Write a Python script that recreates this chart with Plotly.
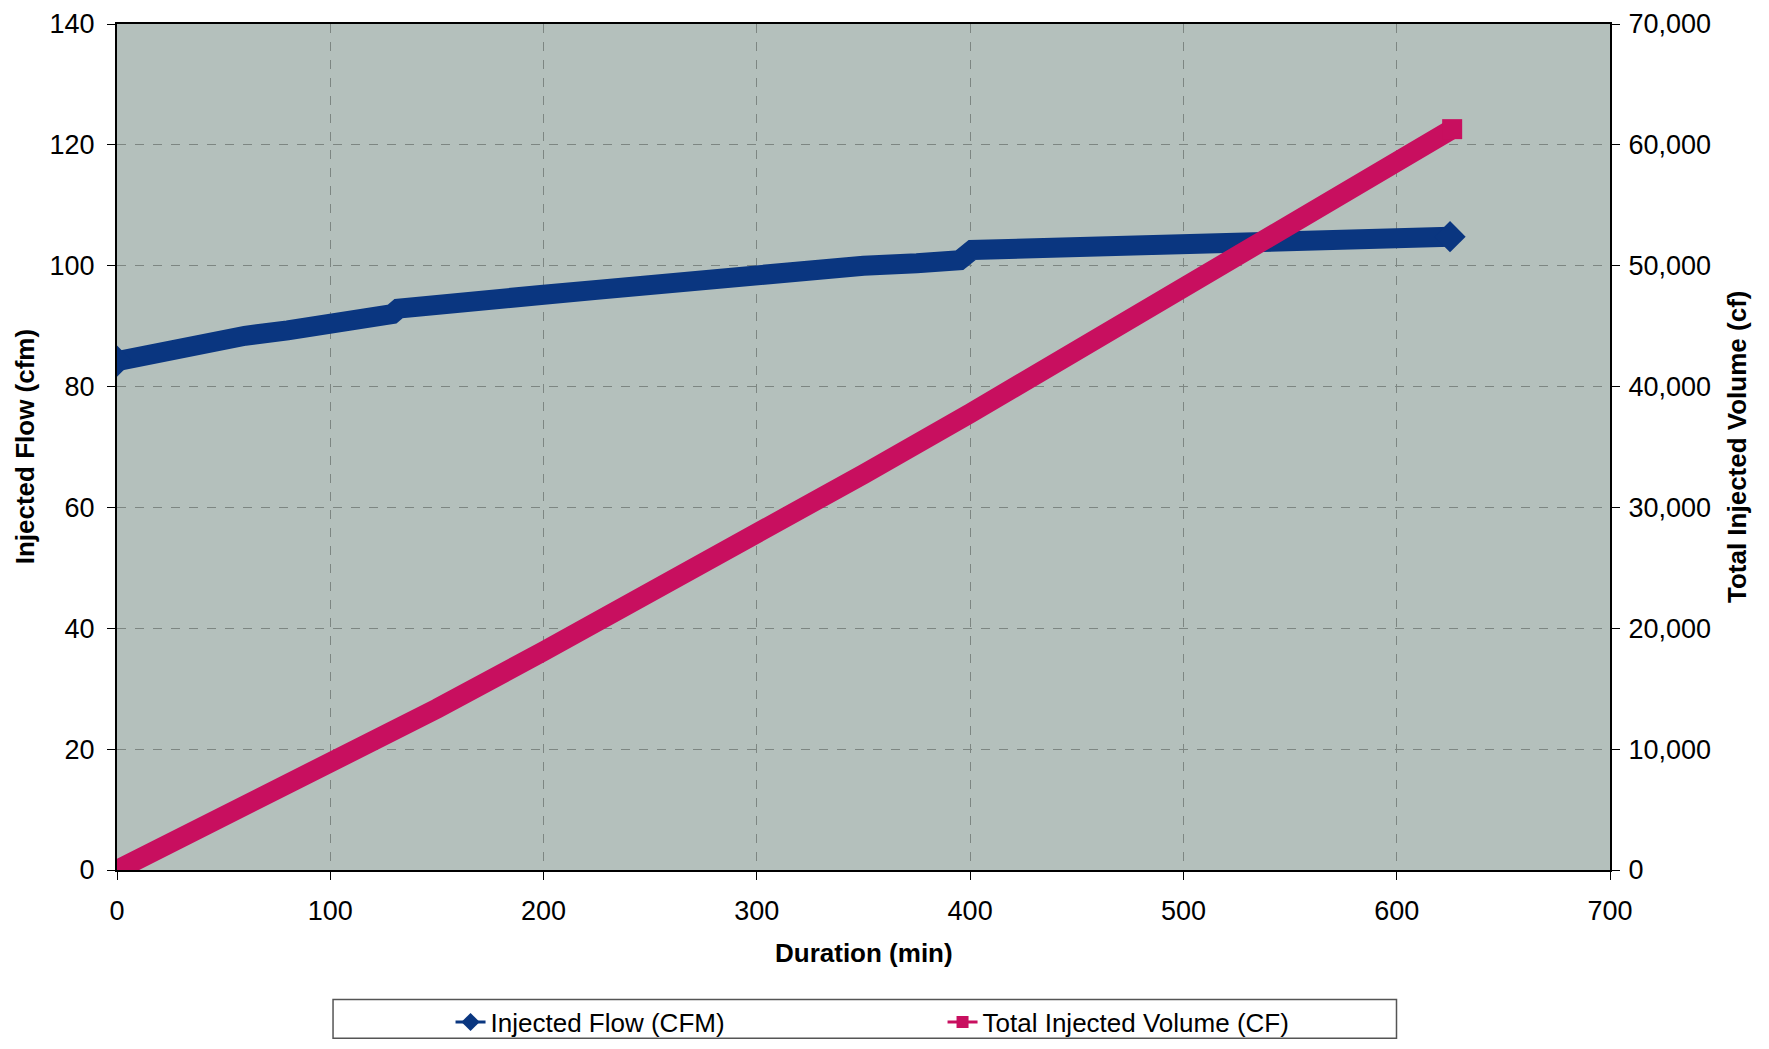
import plotly.graph_objects as go

# Injected flow (cfm) vs duration (min)
flow_t = [0, 10, 20, 30, 43, 60, 80, 100, 120, 129, 132, 150, 170, 184, 200, 225, 250, 275,
          300, 315, 320, 350, 375, 395, 401, 425, 450, 475, 500, 525, 550, 575, 600, 625]
flow_v = [84.2, 85.0, 85.7, 86.6, 87.5, 88.4, 89.3, 90.3, 91.4, 92.0, 92.9, 93.3, 93.9, 94.6,
          95.2, 96.0, 96.9, 97.6, 98.3, 98.8, 99.3, 100.0, 100.4, 100.9, 102.6, 102.9, 103.2,
          103.4, 103.6, 103.9, 104.1, 104.3, 104.6, 104.8]

# Total injected volume (cf) vs duration (min)
vol_t = [0, 50, 100, 150, 200, 250, 300, 350, 400, 450, 500, 550, 600, 626]
vol_v = [0, 4300, 8750, 13350, 18100, 22900, 27800, 32750, 37780, 42900, 48050, 53250, 58450, 61300]

x_ticks = [0, 100, 200, 300, 400, 500, 600, 700]
y_ticks = [0, 20, 40, 60, 80, 100, 120, 140]
y2_ticks = [0, 10000, 20000, 30000, 40000, 50000, 60000, 70000]

BLUE = "#0a3680"
PINK = "#c80f5f"
FONT = "Liberation Sans"

def end_sizes(n, s):
    return [s] + [0] * (n - 2) + [s]

fig = go.Figure()
fig.add_trace(go.Scatter(x=flow_t, y=flow_v, mode="lines+markers", showlegend=False,
                         line=dict(color=BLUE, width=20),
                         marker=dict(symbol="diamond", color=BLUE, opacity=1,
                                     line=dict(width=0), size=end_sizes(len(flow_t), 24))))
fig.add_trace(go.Scatter(x=vol_t, y=vol_v, yaxis="y2", mode="lines+markers", showlegend=False,
                         line=dict(color=PINK, width=20),
                         marker=dict(symbol="square", color=PINK, opacity=1,
                                     line=dict(width=0), size=end_sizes(len(vol_t), 20))))
# legend entries
fig.add_trace(go.Scatter(x=[None], y=[None], mode="lines+markers", name="Injected Flow (CFM)",
                         line=dict(color=BLUE, width=3),
                         marker=dict(symbol="diamond", color=BLUE, size=14, line=dict(width=0))))
fig.add_trace(go.Scatter(x=[None], y=[None], mode="lines+markers", name="Total Injected Volume (CF)",
                         line=dict(color=PINK, width=3),
                         marker=dict(symbol="square", color=PINK, size=12, line=dict(width=0))))

axis_common = dict(showline=True, linecolor="black", linewidth=2, ticks="outside", ticklen=8,
                   tickcolor="black", tickwidth=1, zeroline=False, automargin=False,
                   ticklabeloverflow="allow",
                   tickfont=dict(family=FONT, size=27, color="black"))

fig.update_layout(
    width=1753, height=1033,
    margin=dict(l=109, r=151, t=16, b=171, autoexpand=False),
    paper_bgcolor="white", plot_bgcolor="#b4c0bc",
    font=dict(family=FONT, size=26, color="black"),
    xaxis=dict(range=[0, 700], tickvals=x_ticks, mirror=True, showgrid=True,
               gridcolor="#7d8682", griddash="dash", gridwidth=1, ticklabelstandoff=8, **axis_common),
    yaxis=dict(range=[0, 140], tickvals=y_ticks, mirror=True, showgrid=True,
               gridcolor="#7d8682", griddash="dash", gridwidth=1, ticklabelstandoff=7, **axis_common),
    yaxis2=dict(range=[0, 70000], tickvals=y2_ticks, tickformat=",d", overlaying="y", side="right",
                showgrid=False, ticklabelstandoff=3, **axis_common),
    showlegend=True,
    legend=dict(orientation="h", x=0.2234, xanchor="left", y=-0.152, yanchor="top",
                bgcolor="rgba(0,0,0,0)", borderwidth=0, entrywidth=447, entrywidthmode="pixels",
                font=dict(family=FONT, size=26, color="black")),
    shapes=[dict(type="rect", xref="paper", yref="paper", x0=0.1447, x1=0.857, y0=-0.153, y1=-0.1988,
                 line=dict(color="#555555", width=1.5), fillcolor="rgba(0,0,0,0)", layer="below")],
    annotations=[
        dict(text="<b>Duration (min)</b>", xref="paper", yref="paper", x=0.5, y=-0.0976,
             showarrow=False, xanchor="center", yanchor="middle", font=dict(size=26)),
        dict(text="<b>Injected Flow (cfm)</b>", xref="paper", yref="paper", x=-0.0614, y=0.5,
             showarrow=False, textangle=-90, xanchor="center", yanchor="middle", font=dict(size=26)),
        dict(text="<b>Total Injected Volume (cf)</b>", xref="paper", yref="paper", x=1.0851, y=0.5,
             showarrow=False, textangle=-90, xanchor="center", yanchor="middle", font=dict(size=26)),
    ],
)

fig.write_html("out.html")
